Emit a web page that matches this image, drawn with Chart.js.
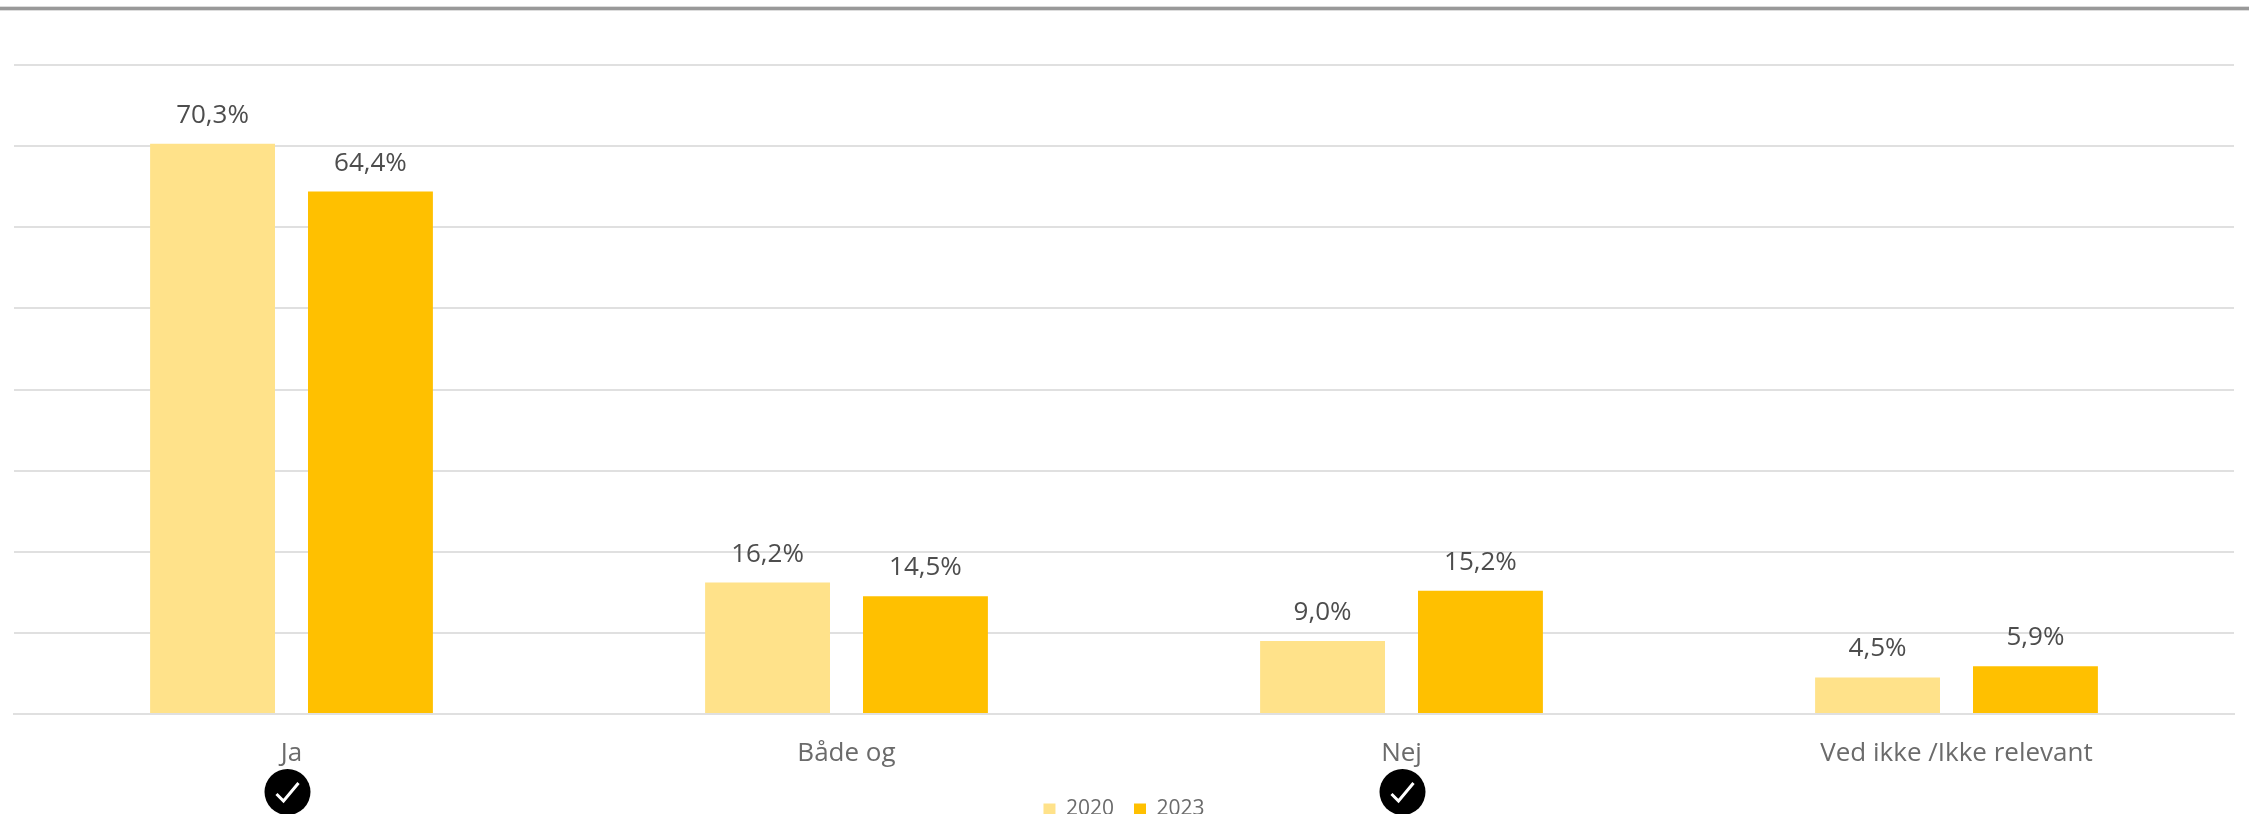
<!DOCTYPE html>
<html>
<head>
<meta charset="utf-8">
<title>Ja / Nej 2020-2023</title>
<script src="https://cdn.jsdelivr.net/npm/chart.js@4/dist/chart.umd.min.js"></script>
<style>
    html, body { margin: 0; padding: 0; background: #ffffff; overflow: hidden; }
    #wrap { position: relative; width: 2249px; height: 814px; }
    #topline { position: absolute; left: 0; right: 0; top: 6px; height: 5px; background: #999999; border-top: 1px solid #dddddd; border-bottom: 1px solid #dddddd; box-sizing: border-box; }
</style>
</head>
<body>
<div id="wrap">
    <div id="topline"></div>
    <canvas id="grafico" width="2249" height="814"></canvas>
</div>
<script>
const categories = ['Ja', 'Både og', 'Nej', 'Ved ikke /Ikke relevant'];
const values2020 = [70.3, 16.2, 9.0, 4.5];
const values2023 = [64.4, 14.5, 15.2, 5.9];
const checkedCategories = ['Ja', 'Nej'];
const FONT = '"Open Sans", "Noto Sans", sans-serif';

// Procent med komma, som i originalen
const formatPct = v => v.toFixed(1).replace('.', ',') + '%';

// Værdier over søjlerne
const barLabels = {
    id: 'barLabels',
    afterDatasetsDraw(chart) {
        const ctx = chart.ctx;
        ctx.save();
        ctx.font = '26px ' + FONT;
        ctx.fillStyle = '#4d4d4d';
        ctx.textAlign = 'center';
        ctx.textBaseline = 'alphabetic';
        chart.data.datasets.forEach((ds, i) => {
            chart.getDatasetMeta(i).data.forEach((bar, j) => {
                ctx.fillText(formatPct(ds.data[j]), bar.x, bar.y - 21);
            });
        });
        ctx.restore();
    }
};

// Sort cirkel med flueben under de valgte kategorier
const checkMarks = {
    id: 'checkMarks',
    afterDraw(chart) {
        const ctx = chart.ctx;
        const xScale = chart.scales.x;
        const cy = chart.chartArea.bottom + 78;
        const r = 23;
        const nudge = { Ja: -4, Nej: 1 }; // ikonerne sidder ikke helt midt under teksten
        checkedCategories.forEach(name => {
            const cx = xScale.getPixelForValue(categories.indexOf(name)) + nudge[name];
            ctx.save();
            ctx.fillStyle = '#000000';
            ctx.beginPath();
            ctx.arc(cx, cy, r, 0, Math.PI * 2);
            ctx.fill();
            ctx.strokeStyle = '#ffffff';
            ctx.lineWidth = 3;
            ctx.beginPath();
            ctx.moveTo(cx - 11, cy + 2);
            ctx.lineTo(cx - 4, cy + 9);
            ctx.lineTo(cx + 11, cy - 9);
            ctx.stroke();
            ctx.restore();
        });
    }
};

const ctx = document.getElementById('grafico').getContext('2d');
new Chart(ctx, {
    type: 'bar',
    data: {
        labels: categories,
        datasets: [
            { label: '2020', data: values2020, backgroundColor: '#FFE28A' },
            { label: '2023', data: values2023, backgroundColor: '#FFC000' }
        ]
    },
    options: {
        responsive: false,
        animation: false,
        categoryPercentage: 0.569,
        barPercentage: 0.791,
        layout: { padding: { top: 65, left: 14, right: 15, bottom: -16 } },
        plugins: {
            tooltip: { enabled: false },
            legend: {
                position: 'bottom',
                labels: {
                    boxWidth: 12,
                    boxHeight: 12,
                    padding: 20,
                    color: '#6b6b6b',
                    font: { family: FONT, size: 21 }
                }
            }
        },
        scales: {
            x: {
                grid: { display: false },
                border: { color: '#e0e0e0', width: 2 },
                ticks: {
                    color: '#6b6b6b',
                    padding: 16,
                    font: { family: FONT, size: 26 }
                },
                afterFit(scale) { scale.height = 65; }
            },
            y: {
                min: 0,
                max: 80,
                ticks: { display: false, stepSize: 10 },
                border: { display: false },
                grid: { color: '#e0e0e0', lineWidth: 2, drawTicks: false }
            }
        }
    },
    plugins: [barLabels, checkMarks]
});
</script>
</body>
</html>
